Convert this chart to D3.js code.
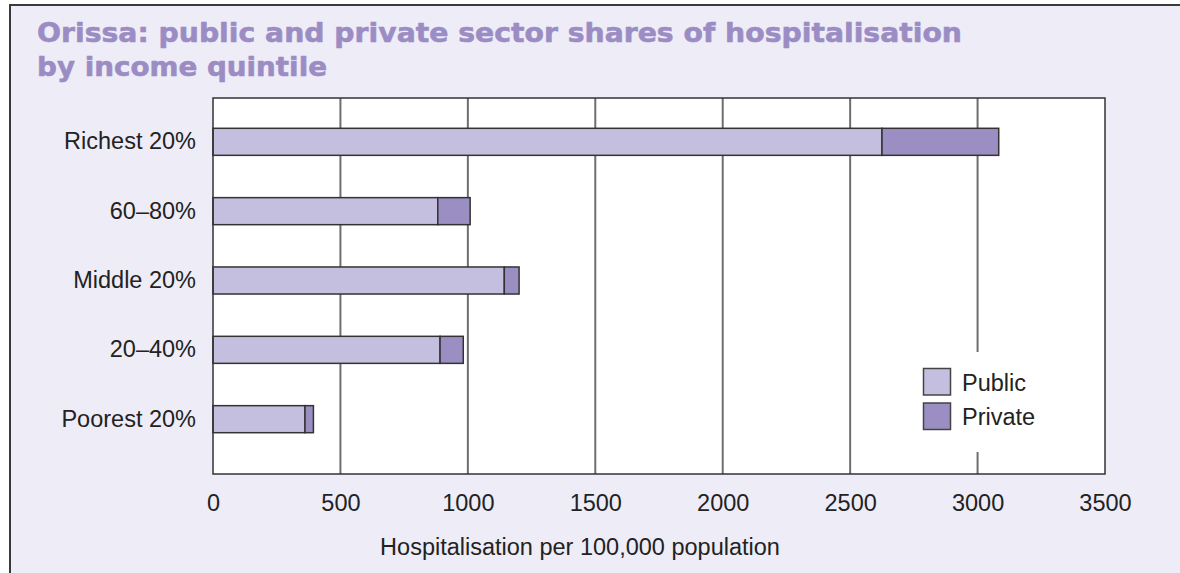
<!DOCTYPE html>
<html>
<head>
<meta charset="utf-8">
<script src="https://cdn.jsdelivr.net/npm/d3@7"></script>
<style>
  html, body { margin: 0; padding: 0; background: #ffffff; }
  svg { display: block; }
  text { font-family: "Liberation Sans", Arial, sans-serif; }
</style>
</head>
<body>
<svg id="chart" width="1180" height="573"></svg>
<script>
// Hospitalisation per 100,000 population, Orissa, by income quintile
const categories = ["Richest 20%", "60\u201380%", "Middle 20%", "20\u201340%", "Poorest 20%"];
const publicValues = [2625, 882, 1143, 891, 361];
const privateValues = [458, 127, 58, 91, 33];
const seriesNames = ["Public", "Private"];
const xTicks = [0, 500, 1000, 1500, 2000, 2500, 3000, 3500];
const titleLines = ["Orissa: public and private sector shares of hospitalisation", "by income quintile"];
const xAxisTitle = "Hospitalisation per 100,000 population";

const colors = { Public: "#c5bfdf", Private: "#9b8ec3" };
const labelSize = "23.5px";

const svg = d3.select("#chart");
const W = 1180, H = 573;
const plot = { left: 213, top: 98, right: 1105, bottom: 474 };

// Panel background with border on top and left
svg.append("rect").attr("x", 10).attr("y", 5).attr("width", W - 10).attr("height", H - 5)
  .attr("fill", "#eeecf7");
svg.append("path").attr("d", `M10,${H} V5 H${W}`)
  .attr("fill", "none").attr("stroke", "#3a3a3a").attr("stroke-width", 2);

// Title (heavy face, slightly thickened with a matching stroke)
const title = svg.append("g");
titleLines.forEach((line, i) => {
  title.append("text")
    .attr("x", 37).attr("y", 42 + i * 34)
    .attr("fill", "#9b8dc4")
    .attr("stroke", "#9b8dc4").attr("stroke-width", 0.6).attr("stroke-linejoin", "round")
    .style("font-family", "'DejaVu Sans', sans-serif")
    .style("font-weight", "bold")
    .style("font-size", "27px")
    .attr("textLength", i === 0 ? 925 : 290)
    .attr("lengthAdjust", "spacingAndGlyphs")
    .text(line);
});

// Scales
const x = d3.scaleLinear().domain([0, 3500]).range([plot.left, plot.right]);
const y = d3.scaleBand().domain(categories).range([86, 475]).paddingInner(0.61).paddingOuter(0.61);

// Plot area
svg.append("rect").attr("x", plot.left).attr("y", plot.top)
  .attr("width", plot.right - plot.left).attr("height", plot.bottom - plot.top)
  .attr("fill", "#ffffff");

// Vertical gridlines
svg.append("g").selectAll("line").data(xTicks.slice(1, -1)).join("line")
  .attr("x1", d => x(d)).attr("x2", d => x(d))
  .attr("y1", plot.top).attr("y2", plot.bottom)
  .attr("stroke", "#6e6e6e").attr("stroke-width", 2);

// Stacked bars
const rows = categories.map((c, i) => ({ cat: c, Public: publicValues[i], Private: privateValues[i] }));
const stacked = d3.stack().keys(seriesNames)(rows);
svg.append("g").selectAll("g").data(stacked).join("g")
  .attr("fill", d => colors[d.key])
  .selectAll("rect").data(d => d).join("rect")
  .attr("x", d => x(d[0]))
  .attr("y", d => y(d.data.cat))
  .attr("width", d => x(d[1]) - x(d[0]))
  .attr("height", y.bandwidth())
  .attr("stroke", "#333333").attr("stroke-width", 1.5);

// Legend (white box interrupts gridline)
const legend = svg.append("g");
legend.append("rect").attr("x", 905).attr("y", 352).attr("width", 195).attr("height", 100)
  .attr("fill", "#ffffff");
seriesNames.forEach((name, i) => {
  legend.append("rect")
    .attr("x", 923.5).attr("y", 368.5 + i * 34.5).attr("width", 27).attr("height", 26.5)
    .attr("fill", colors[name]).attr("stroke", "#444444").attr("stroke-width", 1.5);
  legend.append("text")
    .attr("x", 962).attr("y", 390.5 + i * 34.5)
    .attr("fill", "#222222").style("font-size", labelSize)
    .text(name);
});

// Plot frame
svg.append("rect").attr("x", plot.left).attr("y", plot.top)
  .attr("width", plot.right - plot.left).attr("height", plot.bottom - plot.top)
  .attr("fill", "none").attr("stroke", "#333333").attr("stroke-width", 1.5);

// X axis labels
const xAxis = d3.axisBottom(x).tickValues(xTicks).tickSize(0).tickPadding(20).tickFormat(d3.format("d"));
const gx = svg.append("g").attr("transform", `translate(0,${plot.bottom})`).call(xAxis);
gx.select(".domain").remove();
gx.selectAll("text").style("font-size", labelSize).style("font-family", "'Liberation Sans', Arial, sans-serif")
  .attr("fill", "#222222");

// Y axis labels
const yAxis = d3.axisLeft(y).tickSize(0).tickPadding(17);
const gy = svg.append("g").attr("transform", `translate(${plot.left},0)`).call(yAxis);
gy.select(".domain").remove();
gy.selectAll("text").style("font-size", labelSize).style("font-family", "'Liberation Sans', Arial, sans-serif")
  .attr("fill", "#222222");

// X axis title
svg.append("text").attr("x", 580).attr("y", 555).attr("text-anchor", "middle")
  .attr("fill", "#222222").style("font-size", labelSize)
  .text(xAxisTitle);
</script>
</body>
</html>
